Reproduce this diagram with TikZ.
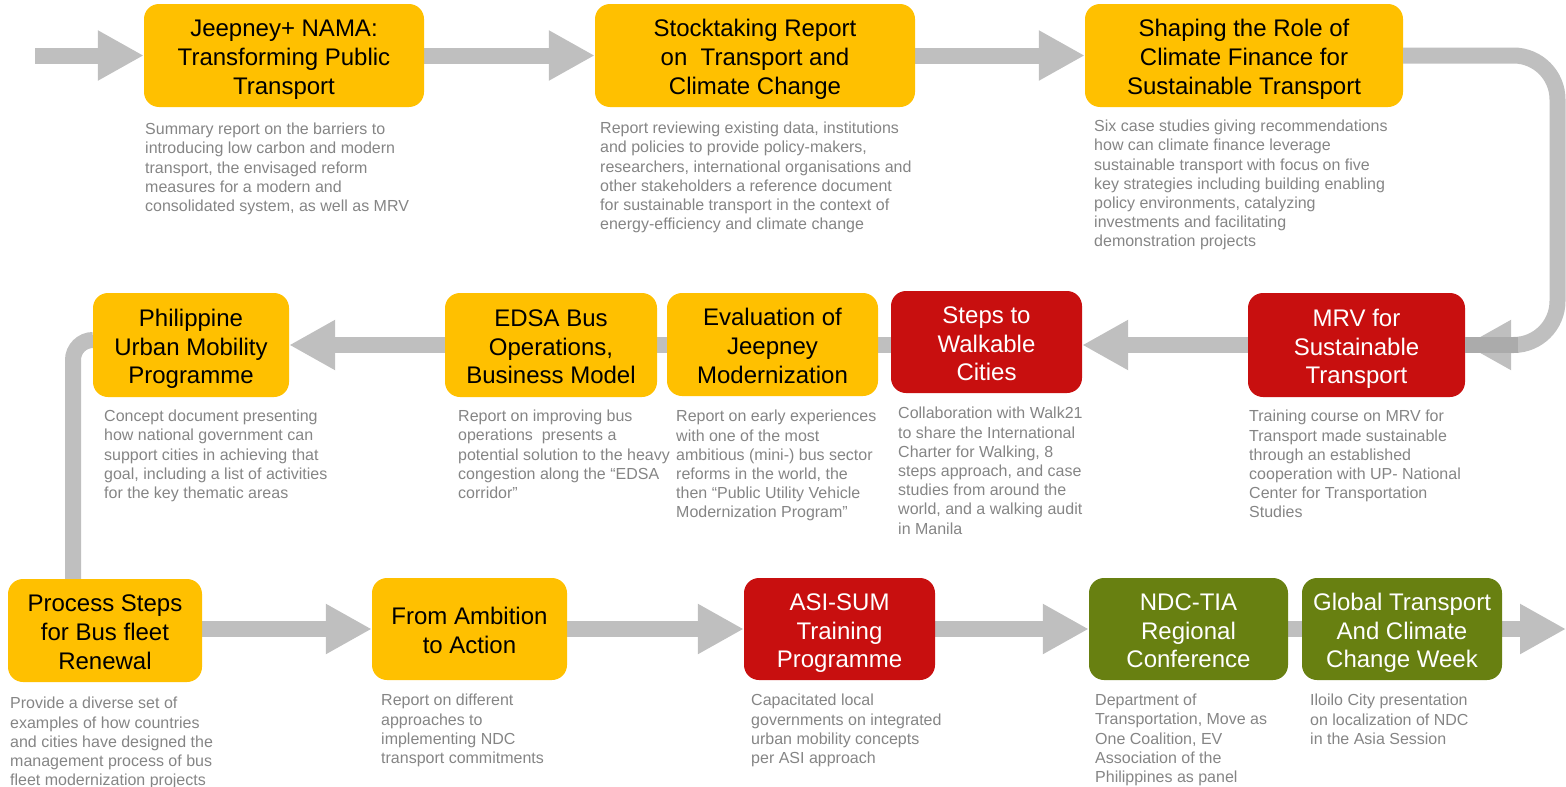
\documentclass[tikz,border=0pt]{standalone}
\usepackage{fontspec}
\setmainfont{Liberation Sans}
\usetikzlibrary{arrows.meta}
\definecolor{byel}{HTML}{FFC000}
\definecolor{bred}{HTML}{C80F0F}
\definecolor{bgrn}{HTML}{688011}
\definecolor{cgray}{HTML}{BFBFBF}
\definecolor{ovgray}{HTML}{ABABAB}
\definecolor{dgray}{HTML}{858585}
\newcommand{\boxtitle}[1]{\raisebox{-4.3pt}[\height][\depth]{\begin{tabular}{@{}c@{}}#1\end{tabular}}}
\pgfdeclarelayer{bg}
\pgfsetlayers{bg,main}
\begin{document}
\begin{tikzpicture}[x=1pt,y=-1pt,
 box/.style={rounded corners=15pt, inner sep=0pt, font=\fontsize{24}{28.8}\selectfont},
 ybox/.style={box, fill=byel, text=black},
 rbox/.style={box, fill=bred, text=white},
 gbox/.style={box, fill=bgrn, text=white},
 desc/.style={anchor=north west, inner sep=0pt, align=left, text=dgray, font=\fontsize{16}{19.2}\selectfont},
 conn/.style={draw=cgray, line width=16pt},
 arr/.style={conn, -{Triangle[length=46pt,width=47pt]}}]
\useasboundingbox (0,0) rectangle (1566,787);

% row 1
\node[ybox, minimum width=280pt, minimum height=103pt] (b1) at (284,55.5) {\boxtitle{Jeepney+ NAMA:\\Transforming Public\\Transport}};
\node[ybox, minimum width=320pt, minimum height=103pt] (b2) at (755,55.5) {\boxtitle{Stocktaking Report\\on\ \ Transport and\\Climate Change}};
\node[ybox, minimum width=318pt, minimum height=103pt] (b3) at (1244,55.5) {\boxtitle{Shaping the Role of\\Climate Finance for\\Sustainable Transport}};
% row 2
\node[rbox, minimum width=217pt, minimum height=104pt] (b4) at (1356.5,345) {\boxtitle{MRV for\\Sustainable\\Transport}};
\node[rbox, minimum width=191pt, minimum height=102pt] (b5) at (986.5,342) {\boxtitle{Steps to\\Walkable\\Cities}};
\node[ybox, minimum width=211pt, minimum height=103pt] (b6) at (772.5,344.5) {\boxtitle{Evaluation of\\Jeepney\\Modernization}};
\node[ybox, minimum width=212pt, minimum height=104pt] (b7) at (551,345) {\boxtitle{EDSA Bus\\Operations,\\Business Model}};
\node[ybox, minimum width=196pt, minimum height=104pt] (b8) at (191,345) {\boxtitle{Philippine\\Urban Mobility\\Programme}};
% row 3
\node[ybox, minimum width=194pt, minimum height=103pt] (b9) at (105,630.5) {\boxtitle{Process Steps\\for Bus fleet\\Renewal}};
\node[ybox, minimum width=195pt, minimum height=102pt] (b10) at (469.5,629) {\boxtitle{From Ambition\\to Action}};
\node[rbox, minimum width=191pt, minimum height=102pt] (b11) at (839.5,629) {\boxtitle{ASI-SUM\\Training\\Programme}};
\node[gbox, minimum width=199pt, minimum height=102pt] (b12) at (1188.5,629) {\boxtitle{NDC-TIA\\Regional\\Conference}};
\node[gbox, minimum width=200pt, minimum height=102pt] (b13) at (1402,629) {\boxtitle{Global Transport\\And Climate\\Change Week}};

% descriptions
\node[desc] (d1) at (145,123) {Summary report on the barriers to\\introducing low carbon and modern\\transport, the envisaged reform\\measures for a modern and\\consolidated system, as well as MRV};
\node[desc] (d2) at (600,122) {Report reviewing existing data, institutions\\and policies to provide policy-makers,\\researchers, international organisations and\\other stakeholders a reference document\\for sustainable transport in the context of\\energy-efficiency and climate change};
\node[desc] (d3) at (1094,120) {Six case studies giving recommendations\\how can climate finance leverage\\sustainable transport with focus on five\\key strategies including building enabling\\policy environments, catalyzing\\investments and facilitating\\demonstration projects};
\node[desc] (d4) at (1249,410) {Training course on MRV for\\Transport made sustainable\\through an established\\cooperation with UP- National\\Center for Transportation\\Studies};
\node[desc] (d5) at (898,407) {Collaboration with Walk21\\to share the International\\Charter for Walking, 8\\steps approach, and case\\studies from around the\\world, and a walking audit\\in Manila};
\node[desc] (d6) at (676,410) {Report on early experiences\\with one of the most\\ambitious (mini-) bus sector\\reforms in the world, the\\then “Public Utility Vehicle\\Modernization Program”};
\node[desc] (d7) at (458,410) {Report on improving bus\\operations\ \ presents a\\potential solution to the heavy\\congestion along the “EDSA\\corridor”};
\node[desc] (d8) at (104,410) {Concept document presenting\\how national government can\\support cities in achieving that\\goal, including a list of activities\\for the key thematic areas};
\node[desc] (d9) at (10,697) {Provide a diverse set of\\examples of how countries\\and cities have designed the\\management process of bus\\fleet modernization projects};
\node[desc] (d10) at (381,694) {Report on different\\approaches to\\implementing NDC\\transport commitments};
\node[desc] (d11) at (751,694) {Capacitated local\\governments on integrated\\urban mobility concepts\\per ASI approach};
\node[desc] (d12) at (1095,694) {Department of\\Transportation, Move as\\One Coalition, EV\\Association of the\\Philippines as panel};
\node[desc] (d13) at (1310,694) {Iloilo City presentation\\on localization of NDC\\in the Asia Session};

\coordinate (in) at (35,55.5);
\coordinate (out) at (1566,629);

\begin{pgfonlayer}{bg}
\draw[arr] (in) -- (b1.west);
\draw[arr] (b1.east) -- (b2.west);
\draw[arr] (b2.east) -- (b3.west);
\draw[arr] (b4.west) -- (b5.east |- b4.west);
\draw[conn] (b6.east) -- (b5.west |- b6.east);
\draw[conn] (b6.west) -- (b7.east |- b6.west);
\draw[arr] (b7.west) -- (b8.east);
\draw[conn, rounded corners=20pt] ([yshift=5pt]b8.west) -| ([xshift=-32pt]b9.north);
\draw[arr] (b9.east |- b10.west) -- (b10.west);
\draw[arr] (b10.east) -- (b11.west);
\draw[arr] (b11.east) -- (b12.west);
\draw[conn] (b12.east) -- (b13.west);
\draw[arr] (b13.east) -- (out);
\end{pgfonlayer}
\draw[arr, rounded corners=44pt] (b3.east) -- (1557.5,55.5) -- (1557.5,345) -- (b4.east);
\fill[ovgray] (1465,337) rectangle (1518,353);
\end{tikzpicture}
\end{document}
